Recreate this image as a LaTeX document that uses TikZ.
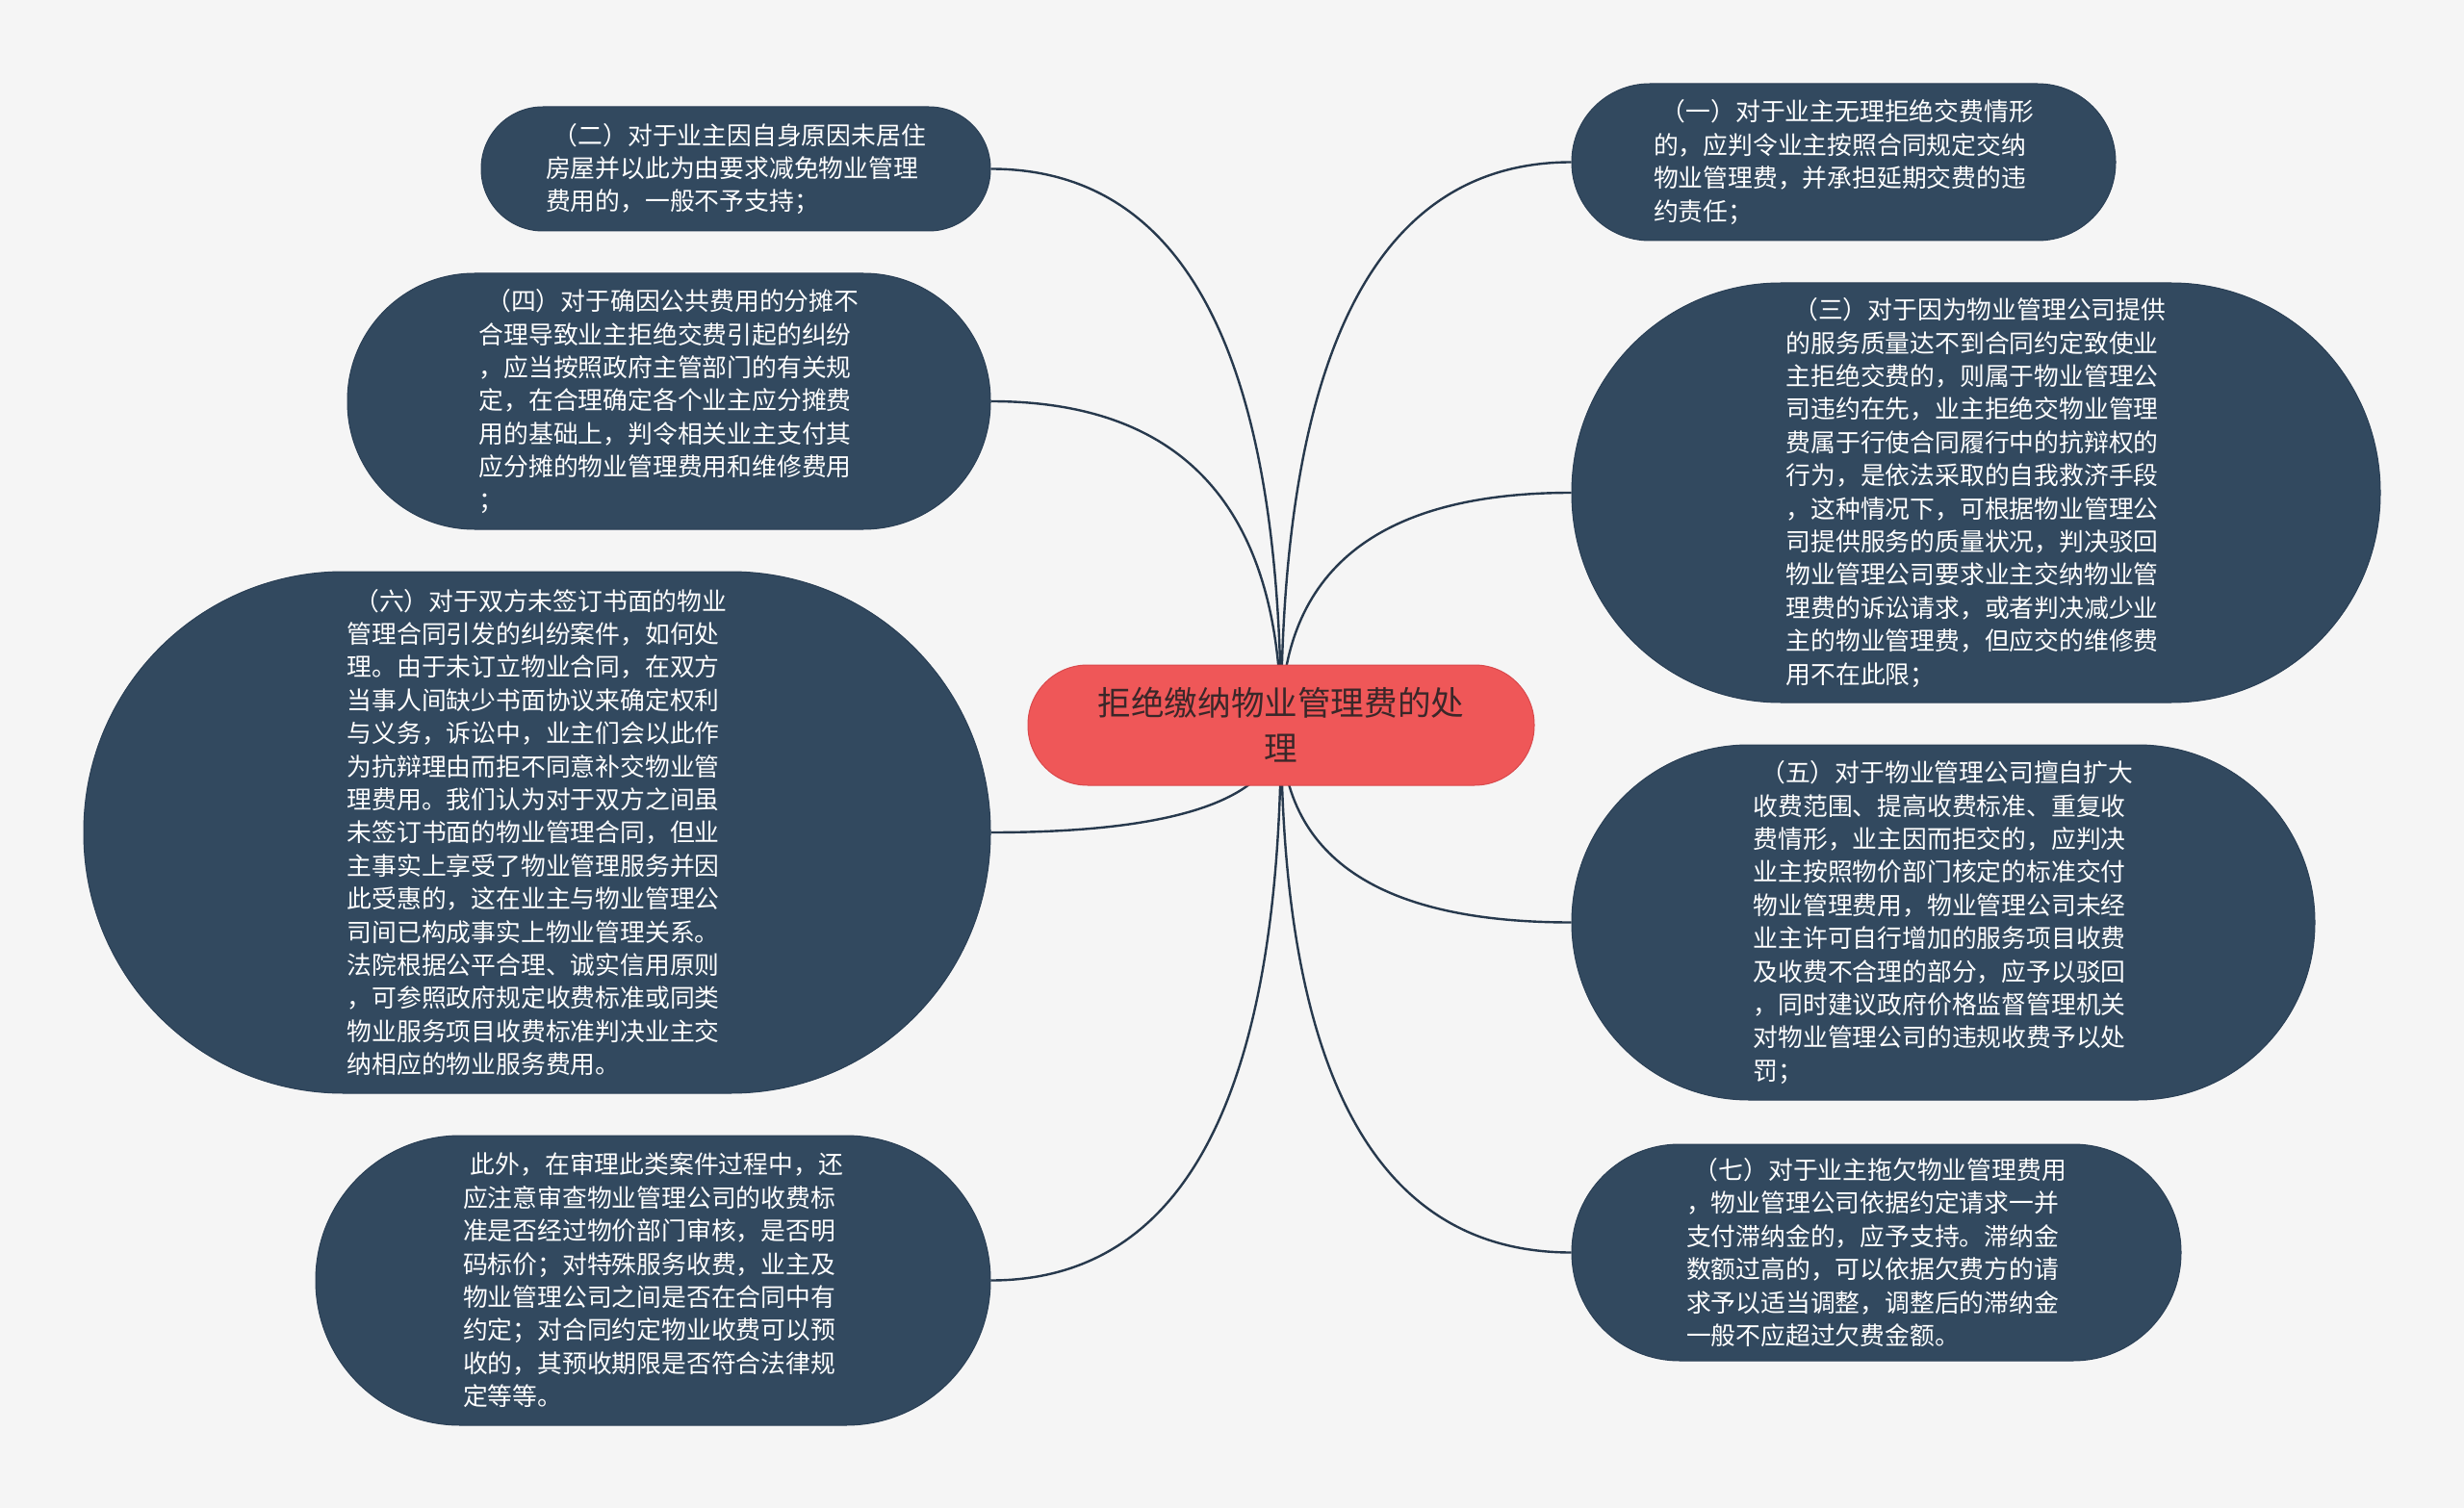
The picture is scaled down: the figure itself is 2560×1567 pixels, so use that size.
\documentclass[tikz,border=0pt]{standalone}
\usepackage{fontspec}
\setmainfont{Noto Sans CJK SC}
\usetikzlibrary{calc}
\definecolor{bgc}{HTML}{F5F5F5}
\definecolor{slate}{HTML}{32495F}
\definecolor{slateline}{HTML}{2A3F55}
\definecolor{coral}{HTML}{EF5758}
\definecolor{coralline}{HTML}{D9494C}
\definecolor{ctext}{HTML}{3A2729}
\definecolor{edgec}{HTML}{27394D}
\pgfdeclarelayer{bglayer}
\pgfdeclarelayer{edgelayer}
\pgfsetlayers{bglayer,edgelayer,main}
\begin{document}
\begin{tikzpicture}[x=0.5pt,y=-0.5pt,
  sz/.style n args={3}{minimum width=#1pt, minimum height=#2pt, rounded corners=#3pt},
  branch/.style={draw=slateline, line width=0.5pt, fill=slate, text=white, align=left,
    inner sep=0pt, font=\fontsize{12.9pt}{17.2pt}\selectfont},
  root/.style={draw=coralline, line width=0.5pt, fill=coral, text=ctext, align=center,
    inner sep=0pt, font=\fontsize{17.3pt}{23.5pt}\selectfont},
  conn/.style={draw=edgec, line width=1.2pt}
]
\begin{pgfonlayer}{bglayer}
  \fill[bgc] (0,0) rectangle (2560,1567);
\end{pgfonlayer}

\node[root, sz={263}{62.5}{31}] (c) at (1331,753.5) {拒绝缴纳物业管理费的处\\理};

\node[branch, sz={264.5}{64.5}{32}] (n2) at (764.5,175.5) {\hspace*{0.3em}（二）对于业主因自身原因未居住\\房屋并以此为由要求减免物业管理\\费用的，一般不予支持；};

\node[branch, sz={334}{133}{66}] (n4) at (695,417) {\hspace*{0.3em}（四）对于确因公共费用的分摊不\\合理导致业主拒绝交费引起的纠纷\\，应当按照政府主管部门的有关规\\定，在合理确定各个业主应分摊费\\用的基础上，判令相关业主支付其\\应分摊的物业管理费用和维修费用\\；};

\node[branch, sz={471}{271}{135}] (n6) at (558,865) {\hspace*{0.3em}（六）对于双方未签订书面的物业\\管理合同引发的纠纷案件，如何处\\理。由于未订立物业合同，在双方\\当事人间缺少书面协议来确定权利\\与义务，诉讼中，业主们会以此作\\为抗辩理由而拒不同意补交物业管\\理费用。我们认为对于双方之间虽\\未签订书面的物业管理合同，但业\\主事实上享受了物业管理服务并因\\此受惠的，这在业主与物业管理公\\司间已构成事实上物业管理关系。\\法院根据公平合理、诚实信用原则\\，可参照政府规定收费标准或同类\\物业服务项目收费标准判决业主交\\纳相应的物业服务费用。};

\node[branch, sz={350.5}{150.5}{75}] (n8) at (678.5,1330.5) {\hspace*{0.3em}此外，在审理此类案件过程中，还\\应注意审查物业管理公司的收费标\\准是否经过物价部门审核，是否明\\码标价；对特殊服务收费，业主及\\物业管理公司之间是否在合同中有\\约定；对合同约定物业收费可以预\\收的，其预收期限是否符合法律规\\定等等。};

\node[branch, sz={282.5}{81.5}{40.5}] (n1) at (1915.5,168.5) {\hspace*{0.3em}（一）对于业主无理拒绝交费情形\\的，应判令业主按照合同规定交纳\\物业管理费，并承担延期交费的违\\约责任；};

\node[branch, sz={420}{218}{108.5}] (n3) at (2053,512) {\hspace*{0.3em}（三）对于因为物业管理公司提供\\的服务质量达不到合同约定致使业\\主拒绝交费的，则属于物业管理公\\司违约在先，业主拒绝交物业管理\\费属于行使合同履行中的抗辩权的\\行为，是依法采取的自我救济手段\\，这种情况下，可根据物业管理公\\司提供服务的质量状况，判决驳回\\物业管理公司要求业主交纳物业管\\理费的诉讼请求，或者判决减少业\\主的物业管理费，但应交的维修费\\用不在此限；};

\node[branch, sz={386}{184.5}{92}] (n5) at (2019,958.5) {\hspace*{0.3em}（五）对于物业管理公司擅自扩大\\收费范围、提高收费标准、重复收\\费情形，业主因而拒交的，应判决\\业主按照物价部门核定的标准交付\\物业管理费用，物业管理公司未经\\业主许可自行增加的服务项目收费\\及收费不合理的部分，应予以驳回\\，同时建议政府价格监督管理机关\\对物业管理公司的违规收费予以处\\罚；};

\node[branch, sz={316.5}{112.5}{56}] (n7) at (1949.5,1301.5) {\hspace*{0.3em}（七）对于业主拖欠物业管理费用\\，物业管理公司依据约定请求一并\\支付滞纳金的，应予支持。滞纳金\\数额过高的，可以依据欠费方的请\\求予以适当调整，调整后的滞纳金\\一般不应超过欠费金额。};

\begin{pgfonlayer}{edgelayer}
  \foreach \n in {n2,n4,n6,n8}
    \draw[conn] (c.center) .. controls ($(c.center)!0.6667!(c.center |- \n.east)$)
      and ($(\n.east)!0.6667!(c.center |- \n.east)$) .. (\n.east);
  \foreach \n in {n1,n3,n5,n7}
    \draw[conn] (c.center) .. controls ($(c.center)!0.6667!(c.center |- \n.west)$)
      and ($(\n.west)!0.6667!(c.center |- \n.west)$) .. (\n.west);
\end{pgfonlayer}
\end{tikzpicture}
\end{document}
